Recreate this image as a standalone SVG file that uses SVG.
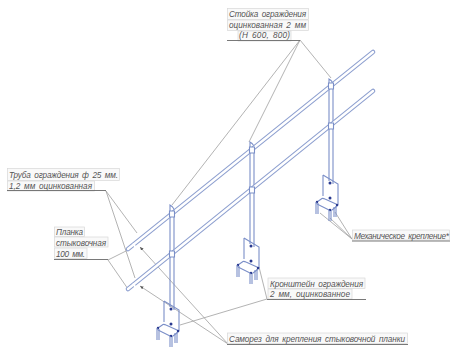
<svg xmlns="http://www.w3.org/2000/svg" width="450" height="347" viewBox="0 0 450 347">
<style>
.bx{fill:#f9f9f9;stroke:#d8d8d8;stroke-width:.7}
.t{font-family:"Liberation Sans",Arial,sans-serif;font-style:italic;font-size:8.2px;fill:#555;word-spacing:1.5px}
.ld{fill:none;stroke:#a0a0a0;stroke-width:.8}
.ul{fill:none;stroke:#6a6a6a;stroke-width:.9}
.b{fill:none;stroke:#7b8fc8;stroke-width:1.1}
.rail-o{fill:none;stroke:#8ea0d0;stroke-width:4.6;stroke-linecap:round}
.rail-i{fill:none;stroke:#fff;stroke-width:2.4;stroke-linecap:round}
.dot{fill:#2a3a90}
</style>
<defs>
<marker id="ah" markerWidth="5" markerHeight="5" refX="4.500" refY="2" orient="auto"><path d="M0 0L4.500 2L0 4z" fill="#5a5a5a"/></marker>
<g id="post">
<path class="b" d="M250 146V244M254 146V247M250 146V142L252 143.500L254 146"/>
<path class="b" d="M244 238L259 247V268L256 270M244 238V259"/>
<path class="b" style="fill:#fff" d="M238 265L243 261.500Q244 261 246 262L257 267Q259 268 257.500 269.500L253 273Q252 273.500 250 273L239 267.500Q237 266.500 238 265Z"/>
<circle class="dot" cx="251" cy="246" r="1.500"/>
<circle class="dot" cx="251" cy="261" r="1.500"/>
<circle class="dot" cx="238" cy="265" r="1.200"/>
<circle class="dot" cx="251" cy="273" r="1.200"/>
<circle class="dot" cx="258" cy="268" r="1.200"/>
<path class="b" d="M237 265V277M239 266V277M250 273V284M252 274V284M255 270V280M257 269V280"/>
</g>
<g id="collar"><path class="b" d="M249.500 -3H254.500V3H249.500Z" style="fill:#fff"/></g>
</defs>
<g id="connectors">
<path class="ld" d="M300 40L331 78M300 40L249 142M300 40L172 205"/>
<path class="ld" d="M106 191L137 233M106 191L135 278"/>
<path class="ld" d="M108 260L128 250M108 260L128 289"/>
<path class="ld" d="M267 299L180 325M267 299L259 267"/>
<path class="ld" marker-end="url(#ah)" d="M228 344L140 247"/>
<path class="ld" marker-end="url(#ah)" d="M228 344L140 286"/>
<path class="ld" d="M352 239L320 213M352 239L330 218M352 239L335 212"/>
</g>
<g id="posts-and-rails">
<use id="post-1" href="#post" x="-80" y="63"/>
<use id="post-2" href="#post"/>
<use id="post-3" href="#post" x="79" y="-63"/>
<g id="rail-upper"><path class="rail-o" d="M128 249L373 52"/><path class="rail-i" d="M128 249L373 52"/></g>
<g id="rail-lower"><path class="rail-o" d="M128 289L373 91"/><path class="rail-i" d="M128 289L373 91"/></g>
<use href="#collar" x="-80" y="214"/>
<use href="#collar" x="-80" y="254"/>
<use href="#collar" y="150"/>
<use href="#collar" y="190"/>
<use href="#collar" x="79" y="86"/>
<use href="#collar" x="79" y="126"/>
<path d="M133 243.500L136 248M133 283.500L136 288" stroke="#fff" stroke-width="2" fill="none"/>
</g>
<g id="label-stoyka">
<rect class="bx" x="227.500" y="8.500" width="81" height="11"/>
<rect class="bx" x="227.500" y="20" width="81" height="10.500"/>
<rect class="bx" x="238" y="31" width="53" height="10"/>
<text class="t" x="229" y="17" textLength="77" lengthAdjust="spacing">Стойка ограждения</text>
<text class="t" x="229" y="28" textLength="77" lengthAdjust="spacing">оцинкованная 2 мм</text>
<text class="t" x="239" y="38" textLength="51" lengthAdjust="spacing">(Н 600, 800)</text>
<path class="ul" d="M227 40.500H300"/>
</g>
<g id="label-truba">
<rect class="bx" x="7.500" y="168.500" width="112" height="12"/>
<rect class="bx" x="7.500" y="181" width="87" height="10"/>
<text class="t" x="9" y="177.500" textLength="109" lengthAdjust="spacing">Труба ограждения ф 25 мм.</text>
<text class="t" x="9" y="188.500" textLength="83" lengthAdjust="spacing">1,2 мм оцинкованная</text>
<path class="ul" d="M7 190.500H106"/>
</g>
<g id="label-planka">
<rect class="bx" x="54.500" y="227" width="30" height="9.500"/>
<rect class="bx" x="54.500" y="237" width="53.500" height="10"/>
<rect class="bx" x="54.500" y="248" width="32.500" height="10.500"/>
<text class="t" x="56" y="235" textLength="27" lengthAdjust="spacing">Планка</text>
<text class="t" x="56" y="245.500" textLength="50" lengthAdjust="spacing">стыковочная</text>
<text class="t" x="56" y="256.500" textLength="29" lengthAdjust="spacing">100 мм.</text>
<path class="ul" d="M54 259.500H108"/>
</g>
<g id="label-kronshtein">
<rect class="bx" x="268" y="278" width="97" height="10.500"/>
<rect class="bx" x="268" y="289" width="84" height="10"/>
<text class="t" x="270" y="286.500" textLength="93" lengthAdjust="spacing">Кронштейн ограждения</text>
<text class="t" x="270" y="297" textLength="80" lengthAdjust="spacing">2 мм, оцинкованное</text>
<path class="ul" d="M267 299.500H366"/>
</g>
<g id="label-samorez">
<rect class="bx" x="227.500" y="333" width="180" height="10.500"/>
<text class="t" x="229" y="341.500" textLength="176" lengthAdjust="spacing">Саморез для крепления стыковочной планки</text>
<path class="ul" d="M227 344.500H408"/>
</g>
<g id="label-mech">
<rect class="bx" x="352.500" y="230" width="97" height="10"/>
<text class="t" x="354" y="238.500" textLength="95" lengthAdjust="spacing">Механическое крепление*</text>
<path class="ul" d="M352 241H450"/>
</g>
</svg>
